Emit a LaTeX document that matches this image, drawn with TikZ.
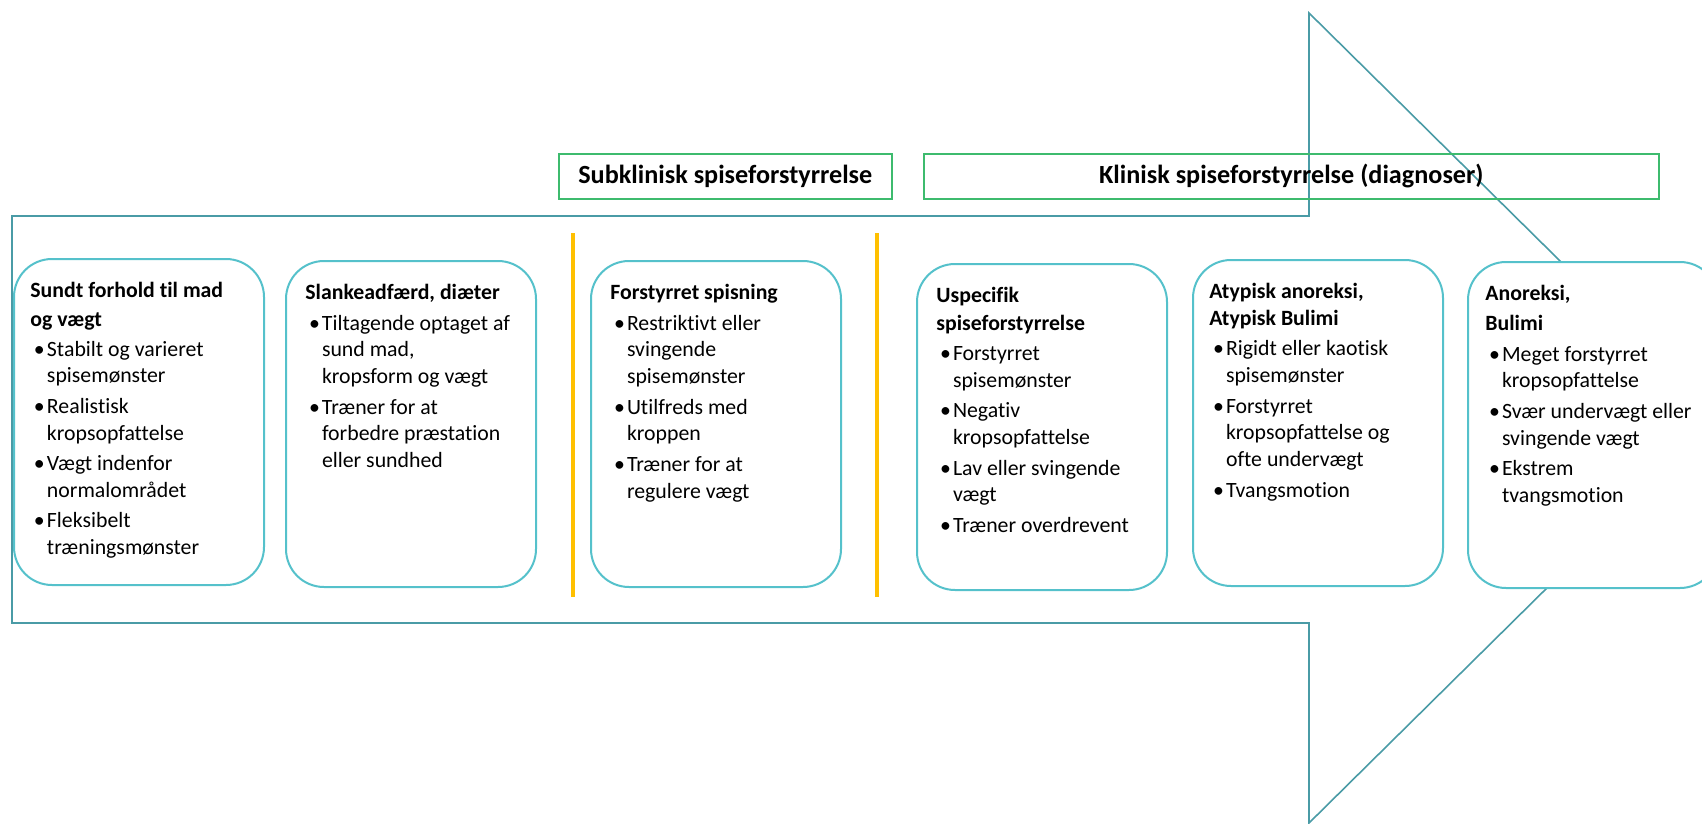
\documentclass[tikz,border=0pt]{standalone}
\usepackage{fontspec}
\setmainfont{Carlito}[Ligatures=NoCommon]
\usepackage{tikz}
\definecolor{arrowteal}{HTML}{4A9BA6}
\definecolor{stagecyan}{HTML}{55C1CB}
\definecolor{phasegreen}{HTML}{3DBB6E}
\definecolor{dividergold}{HTML}{FFC000}
\newcommand{\bul}{\makebox[8.3pt][l]{\hspace{1.8pt}\textbullet}}
\newcommand{\ind}{\hspace*{8.3pt}}
\tikzset{flowarrow/.style={draw=arrowteal, line width=0.8pt, line join=miter}}
\tikzset{stagebox/.style={draw=stagecyan, line width=1pt, fill=white, rounded corners=19pt, minimum width=125pt, minimum height=163pt, inner sep=0pt, anchor=north west}}
\tikzset{stagetext/.style={anchor=north west, align=left, inner sep=0pt, font=\fontsize{10.9}{13.4}\selectfont}}
\tikzset{phasebox/.style={draw=phasegreen, line width=0.8pt, inner sep=0pt, anchor=north west, minimum height=22.5pt, font=\fontsize{13.1}{15}\selectfont\bfseries}}
\tikzset{divider/.style={draw=dividergold, line width=2pt}}

\begin{document}
\begin{tikzpicture}[x=0.5pt, y=-0.5pt]
\useasboundingbox (0,0) rectangle (1702,824);
	\draw[flowarrow] (12,216) -- (1309,216) -- (1309,13) -- (1719,418) -- (1309,823) -- (1309,623) -- (12,623) -- cycle;
	\node[phasebox, minimum width=166.5pt] at (558,153) (subclin) {Subklinisk spiseforstyrrelse};
	\node[phasebox, minimum width=367.5pt] at (923,153) (clin) {Klinisk spiseforstyrrelse (diagnoser)};
	\draw[divider] (573,233) -- (573,597);
	\draw[divider] (877,233) -- (877,597);
\begin{scope}[every node/.style={stagebox}]
	\node at (13,258) (healthy) {};
	\node at (285,260) (dieting) {};
	\node at (590,260) (disturbed) {};
	\node at (916,263) (unspecified) {};
	\node at (1192,259) (atypical) {};
	\node at (1467,261) (clinical) {};
\end{scope}
\begin{scope}[every node/.style={stagetext}]
	\node at (30,282) (healthy-txt) {\textbf{Sundt forhold til mad}\\[0.8pt]
		\textbf{og vægt}\\[1.6pt]
		\bul Stabilt og varieret\\ \ind spisemønster\\[1.8pt]
		\bul Realistisk\\ \ind kropsopfattelse\\[1.8pt]
		\bul Vægt indenfor\\ \ind normalområdet\\[1.8pt]
		\bul Fleksibelt\\ \ind træningsmønster};
	\node at (305,284) (dieting-txt) {\textbf{Slankeadfærd, diæter}\\[1.8pt]
		\bul Tiltagende optaget af\\ \ind sund mad,\\ \ind kropsform og vægt\\[1.8pt]
		\bul Træner for at\\ \ind forbedre præstation\\ \ind eller sundhed};
	\node at (610,284) (disturbed-txt) {\textbf{Forstyrret spisning}\\[1.8pt]
		\bul Restriktivt eller\\ \ind svingende\\ \ind spisemønster\\[1.8pt]
		\bul Utilfreds med\\ \ind kroppen\\[1.8pt]
		\bul Træner for at\\ \ind regulere vægt};
	\node at (936,287) (unspecified-txt) {\textbf{Uspecifik}\\[0.4pt]
		\textbf{spiseforstyrrelse}\\[1.8pt]
		\bul Forstyrret\\ \ind spisemønster\\[1.8pt]
		\bul Negativ\\ \ind kropsopfattelse\\[1.8pt]
		\bul Lav eller svingende\\ \ind vægt\\[1.8pt]
		\bul Træner overdrevent};
	\node at (1209,283) (atypical-txt) {\textbf{Atypisk anoreksi,}\\
		\textbf{Atypisk Bulimi}\\[1.8pt]
		\bul Rigidt eller kaotisk\\ \ind spisemønster\\[1.8pt]
		\bul Forstyrret\\ \ind kropsopfattelse og\\ \ind ofte undervægt\\[1.8pt]
		\bul Tvangsmotion};
	\node at (1485,285) (clinical-txt) {\textbf{Anoreksi,}\\[1.6pt]
		\textbf{Bulimi}\\[1.8pt]
		\bul Meget forstyrret\\ \ind kropsopfattelse\\[1.8pt]
		\bul Svær undervægt eller\\ \ind svingende vægt\\[1.8pt]
		\bul Ekstrem\\ \ind tvangsmotion};
\end{scope}
\end{tikzpicture}
\end{document}
